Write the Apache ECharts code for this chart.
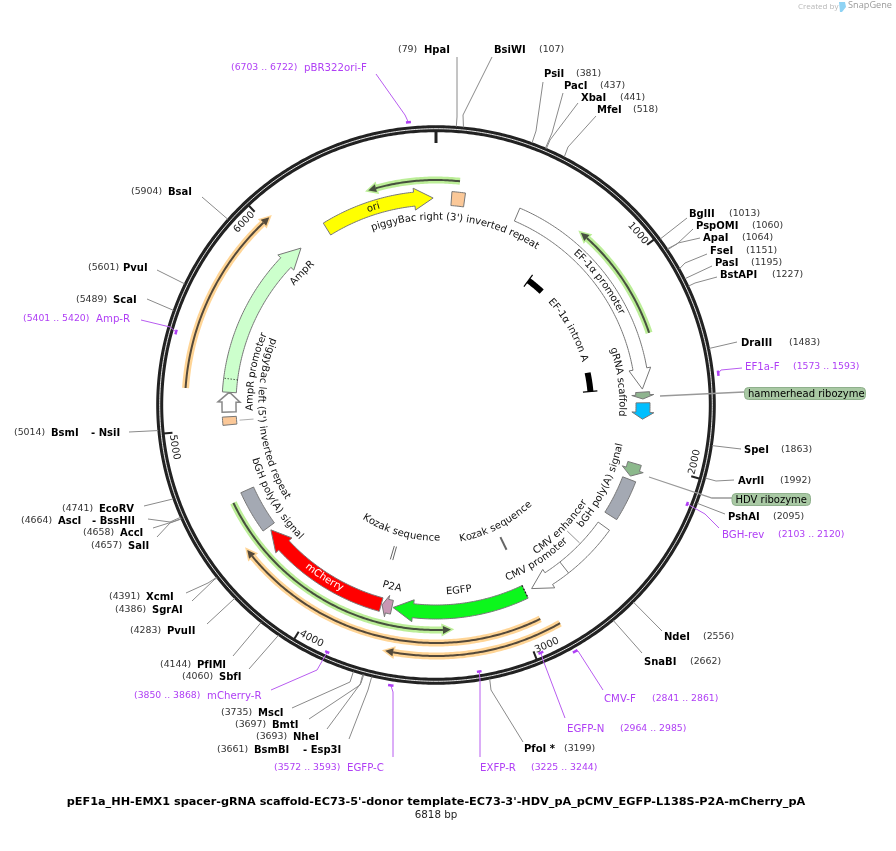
<!DOCTYPE html>
<html>
<head>
<meta charset="utf-8">
<style>html,body{margin:0;padding:0;background:#fff}#map{width:896px;height:851px}</style>
<script src="https://cdn.jsdelivr.net/npm/echarts@6/dist/echarts.min.js"></script>
</head>
<body>
<div id="map"></div>
<script>
const plasmidLength = 6818;
const plasmidTitle = "pEF1a_HH-EMX1 spacer-gRNA scaffold-EC73-5'-donor template-EC73-3'-HDV_pA_pCMV_EGFP-L138S-P2A-mCherry_pA";

const tickPositions = [0, 1000, 2000, 3000, 4000, 5000, 6000];
const tickLabels = ['', '1000', '2000', '3000', '4000', '5000', '6000'];

// restriction sites
const enzymeNames = ['HpaI', 'BsiWI', 'PsiI', 'PacI', 'XbaI', 'MfeI', 'BglII', 'PspOMI', 'ApaI', 'FseI', 'PasI', 'BstAPI',
    'DraIII', 'SpeI', 'AvrII', 'PshAI', 'NdeI', 'SnaBI', 'PfoI *', 'BsmBI', 'NheI', 'BmtI', 'MscI', 'SbfI', 'PfIMI',
    'PvuII', 'SgrAI', 'XcmI', 'SalI', 'AccI', 'AscI', 'EcoRV', 'BsmI', 'ScaI', 'PvuI', 'BsaI'];
const enzymeSites = [79, 107, 381, 437, 441, 518, 1013, 1060, 1064, 1151, 1195, 1227,
    1483, 1863, 1992, 2095, 2556, 2662, 3199, 3661, 3693, 3697, 3735, 4060, 4144,
    4283, 4386, 4391, 4657, 4658, 4664, 4741, 5014, 5489, 5601, 5904];
const enzymeAlso = {BsmBI: '- Esp3I', AscI: '- BssHII', BsmI: '- NsiI'};

// primers
const primerNames = ['pBR322ori-F', 'Amp-R', 'EF1a-F', 'BGH-rev', 'CMV-F', 'EGFP-N', 'EXFP-R', 'EGFP-C', 'mCherry-R'];
const primerStarts = [6703, 5401, 1573, 2103, 2841, 2964, 3225, 3572, 3850];
const primerEnds = [6722, 5420, 1593, 2120, 2861, 2985, 3244, 3593, 3868];

// block features, tail -> neck -> tip in bp (neck null means plain box)
const blockNames = ['ori', 'piggyBac right', 'EF-1a promoter', 'hammerhead', 'gRNA scaffold', 'HDV', 'bGH right', 'CMV',
    'EGFP', 'P2A', 'mCherry', 'bGH left', 'AmpR promoter', 'AmpR', 'piggyBac left'];
const blockTails = [6216, 81, 437, 1637, 1693, 2015, 2103, 2383, 2926, 3642, 3700, 4430, 5077, 5180, 5010];
const blockNecks = [6704, null, 1515, 1652, 1743, 2047, null, 2784, 3530, 3668, 4305, null, 5129, 5937, null];
const blockTips = [6803, 150, 1621, 1673, 1779, 2085, 2318, 2888, 3636, 3695, 4411, 4655, 5181, 6047, 5052];

// long primer-binding style arcs with a small arrow head
const glowStarts = [116, 1350, 4625, 2917, 2848, 5187];
const glowEnds = [-332, 759, 3337, 4403, 3630, 6030];
const glowKinds = ['green', 'green', 'green', 'orange', 'orange', 'orange'];

// EF-1a intron exon stubs and the two kozak marks
const intronStubs = [[693, 814], [1477, 1610]];
const kozakSites = [2917, 3704, 3721];

// curved names
const arcLabels = ["piggyBac right (3') inverted repeat", 'ori', 'EF-1α promoter', 'EF-1α intron A', 'gRNA scaffold',
    'bGH poly(A) signal', 'CMV enhancer', 'CMV promoter', 'Kozak sequence', 'EGFP', 'Kozak sequence', 'P2A', 'mCherry',
    'bGH poly(A) signal', "piggyBac left (5') inverted repeat", 'AmpR promoter', 'AmpR'];
const arcLabelCentres = [121, 6485, 1004, 1146, 1568, 2197, 2547, 2784, 2898, 3276, 3704, 3667, 4032, 4536, 5019, 5312, 5958];

// ---- layout and styles, nothing below here is chart data ----
const FONT = '"DejaVu Sans", Verdana, sans-serif';
const arcLabelRadius = [188, 207, 207, 155, 186, 188, 177, 187, 136, 187, 133, 187, 206, 189, 175, 186, 188];
const arcLabelInward = [0, 0, 0, 0, 0, 1, 1, 1, 1, 1, 1, 1, 1, 1, 1, 0, 0];

const enzymeLayout = [
    [424, 398, 50, [[457, 57], [457, 117]]],
    [494, 539, 50, [[492, 57], [463, 115]]],
    [544, 576, 74, [[543, 82], [536, 131]]],
    [564, 600, 86, [[563, 93], [552, 133]]],
    [581, 620, 98, [[578, 103], [550, 140]]],
    [597, 633, 110, [[596, 116], [568, 147]]],
    [689, 729, 214, [[687, 218]]],
    [696, 752, 226, [[693, 229], [677, 244]]],
    [703, 742, 238, [[700, 238], [678, 243]]],
    [710, 746, 251, [[707, 254], [685, 263]]],
    [715, 751, 263, [[712, 266]]],
    [720, 772, 275, [[717, 277], [695, 283]]],
    [741, 789, 343, [[737, 342]]],
    [744, 781, 450, [[741, 449]]],
    [738, 780, 481, [[734, 480], [716, 481]]],
    [728, 773, 517, [[725, 514]]],
    [664, 703, 637, [[662, 631]]],
    [644, 690, 662, [[642, 653]]],
    [524, 564, 749, [[523, 742], [491, 690]]],
    [254, 217, 750, [[349, 739], [368, 690]]],
    [293, 256, 737, [[327, 729], [361, 683]]],
    [272, 235, 725, [[309, 719], [360, 685]]],
    [258, 221, 713, [[292, 708], [350, 682]]],
    [219, 182, 677, [[249, 669]]],
    [197, 160, 665, [[233, 656]]],
    [167, 130, 631, [[207, 624]]],
    [152, 115, 610, [[192, 601], [215, 579]]],
    [146, 109, 597, [[186, 593], [208, 583]]],
    [128, 91, 546, [[157, 537], [170, 523]]],
    [120, 83, 533, [[153, 528], [172, 522]]],
    [58, 21, 521, [[148, 519], [170, 522]]],
    [99, 62, 509, [[144, 506]]],
    [51, 14, 433, [[129, 432]]],
    [113, 76, 300, [[147, 299]]],
    [123, 88, 268, [[157, 270]]],
    [168, 131, 192, [[202, 197]]]
];
const enzymeAlsoX = {BsmBI: 303, AscI: 92, BsmI: 91};

const primerLayout = [
    [304, 231, 68, 284, [[376, 74], [405, 115]]],
    [96, 23, 319, 270, [[141, 320], [170, 327]]],
    [745, 793, 367, 284, [[742, 368], [721, 370]]],
    [722, 778, 535, 270, [[719, 528], [705, 514]]],
    [604, 652, 699, 283, [[603, 690], [578, 651]]],
    [567, 620, 729, 269, [[565, 718], [543, 660]]],
    [480, 531, 768, 270, [[480, 757], [480, 680]]],
    [347, 274, 768, 284, [[393, 757], [393, 692]]],
    [207, 134, 696, 270, [[271, 690], [317, 670]]]
];

const blockFills = ['#ffff00', '#fbc898', '#ffffff', '#8fb48f', '#00bfff', '#8cb98c', '#a4a9b3', '#ffffff',
    '#0cf71c', '#c897b4', '#ff0000', '#a4a9b3', '#ffffff', '#ccffcc', '#fbc898'];
const glowRadius = [225, 225, 225, 238, 251, 251];
const glowColours = {
    green: {glow: '#bcee98', line: '#47503f'},
    orange: {glow: '#ffd596', line: '#54493a'}
};
const bpPerPx = r => plasmidLength / (2 * Math.PI * r);
const measureCtx = document.createElement('canvas').getContext('2d');

function arcPoints(api, r, a, b) {
    let n = Math.max(2, Math.ceil(Math.abs(b - a) / 10) + 1), pts = [];
    for (let i = 0; i < n; i++) pts.push(api.coord([r, a + (b - a) * i / (n - 1)]));
    return pts;
}

function strokeLine(points, stroke, lineWidth, extra) {
    return {type: 'polyline', shape: {points: points}, silent: true,
        style: Object.assign({stroke: stroke, lineWidth: lineWidth, fill: null}, extra || {})};
}

function fillPoly(points, fill, stroke, lineWidth) {
    return {type: 'polygon', shape: {points: points}, silent: true,
        style: {fill: fill, stroke: stroke || null, lineWidth: lineWidth || 0}};
}

function plainText(x, y, str, font, fill) {
    return {type: 'text', x: x, y: y, silent: true,
        style: {text: str, font: font, fill: fill, align: 'left', verticalAlign: 'middle'}};
}

// one rotated text per glyph so the word follows the circle
function curvedText(api, str, centre, r, inward, font, fill) {
    measureCtx.font = font;
    let total = measureCtx.measureText(str).width, out = [];
    for (let i = 0; i < str.length; i++) {
        let before = measureCtx.measureText(str.slice(0, i)).width;
        let w = measureCtx.measureText(str[i]).width;
        let s = (before + w / 2 - total / 2) * bpPerPx(r);
        let bp = inward ? centre - s : centre + s;
        let p = api.coord([r, bp]);
        let theta = bp / plasmidLength * 2 * Math.PI;
        out.push({type: 'text', x: p[0], y: p[1], rotation: inward ? Math.PI - theta : -theta, silent: true,
            style: {text: str[i], font: font, fill: fill, align: 'center', verticalAlign: 'middle'}});
    }
    return out;
}

function series(name, rows, draw) {
    return {
        name: name, type: 'custom', coordinateSystem: 'polar', data: rows, animation: false, silent: true,
        renderItem: function (params, api) {
            return {type: 'group', children: draw(params.dataIndex, api)};
        }
    };
}

function drawBlock(i, api) {
    let tail = blockTails[i], neck = blockNecks[i], tip = blockTips[i], fill = blockFills[i];
    let rIn = 200, rOut = 214, pts;
    if (neck === null) {
        pts = arcPoints(api, rOut, tail, tip).concat(arcPoints(api, rIn, tip, tail));
    } else {
        pts = arcPoints(api, rOut, tail, neck)
            .concat([api.coord([218, neck]), api.coord([207, tip]), api.coord([196, neck])])
            .concat(arcPoints(api, rIn, neck, tail));
    }
    let promoter = blockNames[i] === 'AmpR promoter';
    let kids = [fillPoly(pts, fill, promoter ? '#888' : '#777', promoter ? 1.5 : 1)];
    if (blockNames[i] === 'CMV') {
        kids.push(strokeLine([api.coord([200, 2684]), api.coord([214, 2684])], '#777', 1));
    }
    if (blockNames[i] === 'EGFP') {
        kids.push(strokeLine([api.coord([200, tail]), api.coord([214, tail])], '#111', 1.2, {lineDash: [1.5, 2]}));
    }
    if (blockNames[i] === 'AmpR') {
        kids.push(strokeLine([api.coord([200, 5250]), api.coord([214, 5250])], '#111', 1, {lineDash: [1, 2]}));
    }
    return kids;
}

function drawGlow(i, api) {
    let a = glowStarts[i], b = glowEnds[i], r = glowRadius[i];
    let c = glowColours[glowKinds[i]], dir = b > a ? 1 : -1;
    let neck = b - dir * 8 * bpPerPx(r);
    let head = [api.coord([r + 4, neck]), api.coord([r, b]), api.coord([r - 4, neck])];
    let line = arcPoints(api, r, a, neck);
    return [
        strokeLine(line, c.glow, 7),
        fillPoly(head, c.glow, c.glow, 3),
        strokeLine(line, c.line, 2),
        fillPoly(head, c.line)
    ];
}

function drawEnzyme(i, api) {
    let lay = enzymeLayout[i], name = enzymeNames[i];
    let pts = [api.coord([279, enzymeSites[i]])].concat(lay[3].slice().reverse());
    let kids = [
        strokeLine(pts, '#8a8a8a', 1),
        plainText(lay[0], lay[2], name, 'bold 10px ' + FONT, '#000'),
        plainText(lay[1], lay[2], '(' + enzymeSites[i] + ')', '9.4px ' + FONT, '#333')
    ];
    if (enzymeAlso[name]) kids.push(plainText(enzymeAlsoX[name], lay[2], enzymeAlso[name], 'bold 10px ' + FONT, '#000'));
    return kids;
}

function drawPrimer(i, api) {
    let lay = primerLayout[i], purple = '#b040f5', r = lay[3];
    let mid = (primerStarts[i] + primerEnds[i]) / 2;
    let pts = [api.coord([r, mid])].concat(lay[4].slice().reverse());
    return [
        strokeLine(pts, '#b85cf0', 1),
        strokeLine(arcPoints(api, r, primerStarts[i], primerEnds[i]), purple, 2.5),
        plainText(lay[0], lay[2], primerNames[i], '10.2px ' + FONT, purple),
        plainText(lay[1], lay[2], '(' + primerStarts[i] + ' .. ' + primerEnds[i] + ')', '9.3px ' + FONT, purple)
    ];
}

function drawPill(text, x0, x1, y0, y1, leader) {
    return [
        strokeLine(leader, '#999', 1.3),
        {type: 'rect', silent: true, shape: {x: x0, y: y0, width: x1 - x0, height: y1 - y0, r: 4},
            style: {fill: '#a9c9a4', stroke: '#8fb08c', lineWidth: 1}},
        plainText(x0 + 3.5, (y0 + y1) / 2 + 0.5, text, '10px ' + FONT, '#000')
    ];
}

let option = {
    animation: false,
    title: {
        text: plasmidTitle, subtext: plasmidLength + ' bp', left: 436, top: 796, textAlign: 'center', itemGap: 1,
        textStyle: {fontFamily: FONT, fontSize: 11.25, fontWeight: 'bold', color: '#000', lineHeight: 12},
        subtextStyle: {fontFamily: FONT, fontSize: 10.3, color: '#222', lineHeight: 12},
        padding: 0
    },
    polar: {center: [436, 405], radius: 300},
    angleAxis: {type: 'value', min: 0, max: plasmidLength, startAngle: 90, clockwise: true, show: false},
    radiusAxis: {type: 'value', min: 0, max: 300, show: false},
    graphic: [
        {type: 'text', left: 798, top: 3, silent: true, style: {text: 'Created by', font: '8px "Open Sans"', fill: '#b8b8b8'}},
        {type: 'polygon', silent: true, shape: {points: [[839, 2], [845, 2], [846, 7], [842, 12], [840, 12]]}, style: {fill: '#8fd3f4'}},
        {type: 'text', left: 848, top: 1, silent: true, style: {text: 'SnapGene', font: '9.2px "Open Sans"', fill: '#9a9a9a'}}
    ],
    series: [
        series('backbone', [[276, 0]], function (i, api) {
            let ring = arcPoints(api, 276.3, 0, plasmidLength);
            return [strokeLine(ring, '#222', 7), strokeLine(ring, '#fff', 0.9)];
        }),
        series('ticks', tickPositions.map(p => [270, p]), function (i, api) {
            let p = tickPositions[i], inner = p === 0 ? 262 : 265;
            let kids = [strokeLine([api.coord([inner, p]), api.coord([274, p])], '#222', p === 0 ? 3 : 2)];
            if (tickLabels[i]) {
                let inward = p >= 2000 && p <= 5000;
                kids = kids.concat(curvedText(api, tickLabels[i], p - 60, 265, inward, '10px ' + FONT, '#222'));
            }
            return kids;
        }),
        series('blocks', blockNames.map((n, i) => [207, blockTails[i]]), drawBlock),
        series('glow arcs', glowStarts.map((s, i) => [glowRadius[i], s]), drawGlow),
        series('intron', intronStubs.map(s => [155, s[0]]), function (i, api) {
            let s = intronStubs[i], cap = i === 0 ? s[0] : s[1];
            return [
                strokeLine(arcPoints(api, 155, s[0], s[1]), '#000', 6),
                strokeLine([api.coord([147.5, cap]), api.coord([162, cap])], '#000', 1.2)
            ];
        }),
        series('kozak', kozakSites.map(s => [154, s]), function (i, api) {
            let p = kozakSites[i];
            return [strokeLine([api.coord([147, p]), api.coord([161, p])], '#666', i === 0 ? 2 : 1)];
        }),
        series('enzymes', enzymeSites.map(s => [279, s]), drawEnzyme),
        series('primers', primerStarts.map(s => [280, s]), drawPrimer),
        series('pills', [[207, 1658], [207, 2050]], function (i, api) {
            if (i === 0) return drawPill('hammerhead ribozyme', 744.5, 865.5, 387.5, 399.5, [[660, 396], [744, 392]]);
            return drawPill('HDV ribozyme', 732, 810.5, 493.5, 505.5, [[649, 477], [712, 498], [732, 498]]);
        }),
        series('short leaders', [[190, 2540], [190, 5030]], function (i, api) {
            if (i === 0) return [strokeLine([api.coord([182, 2535]), api.coord([199, 2535])], '#777', 0.8)];
            return [strokeLine([api.coord([197, 5030]), api.coord([183, 5030])], '#999', 0.8)];
        }),
        series('names', arcLabels.map((t, i) => [arcLabelRadius[i], arcLabelCentres[i]]), function (i, api) {
            let fill = arcLabels[i] === 'mCherry' ? '#fff' : '#111';
            return curvedText(api, arcLabels[i], arcLabelCentres[i], arcLabelRadius[i], !!arcLabelInward[i], '10px ' + FONT, fill);
        })
    ]
};

let chart = echarts.init(document.getElementById('map'));
chart.setOption(option);
</script>
</body>
</html>
